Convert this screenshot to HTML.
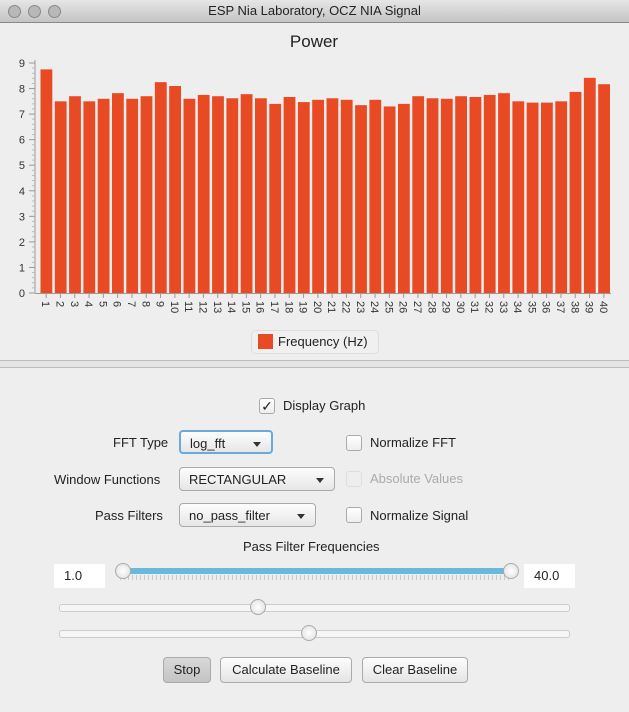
<!DOCTYPE html>
<html><head><meta charset="utf-8"><style>
body{margin:0;width:629px;height:712px;overflow:hidden;background:#eeeeee;font-family:"Liberation Sans",sans-serif;font-size:13px;color:#222;position:relative}
.a{position:absolute}
.dd{position:absolute;height:24px;border:1px solid #aaa;border-radius:4px;background:linear-gradient(#fdfdfd,#e6e6e6);box-sizing:border-box;padding:4px 9px;font-size:13px}
.dd:after{content:"";position:absolute;right:10px;top:10px;border-left:4px solid transparent;border-right:4px solid transparent;border-top:5px solid #333}
.cb{position:absolute;width:16px;height:16px;border:1px solid #aaa;border-radius:3px;background:linear-gradient(#fff,#eee);box-sizing:border-box}
.btn{position:absolute;height:26px;border:1px solid #aaa;border-radius:4px;background:linear-gradient(#fdfdfd,#e4e4e4);box-sizing:border-box;text-align:center;line-height:24px;font-size:13px}
.track{position:absolute;height:6px;border:1px solid #ccc;border-radius:3px;background:#f6f6f6}
.knob{position:absolute;width:16px;height:16px;border-radius:50%;border:1px solid #aaa;background:radial-gradient(#fff,#ddd);box-sizing:border-box}
.tf{position:absolute;background:#fff;height:24px;line-height:24px;padding-left:10px;box-sizing:border-box;font-size:13px}
</style></head><body>
<div class="a" style="left:0;top:0;width:629px;height:22px;background:linear-gradient(#e6e6e6,#c4c4c4);border-bottom:1px solid #888;text-align:center;line-height:22px;font-size:13px">ESP Nia Laboratory, OCZ NIA Signal
<div class="a" style="left:8px;top:5px;width:11px;height:11px;border-radius:50%;background:#b8b8b8;border:1px solid #888"></div>
<div class="a" style="left:28px;top:5px;width:11px;height:11px;border-radius:50%;background:#b8b8b8;border:1px solid #888"></div>
<div class="a" style="left:48px;top:5px;width:11px;height:11px;border-radius:50%;background:#b8b8b8;border:1px solid #888"></div>
</div>
<svg class="a" style="left:0;top:23px" width="629" height="345">
<g id="g" transform="translate(0,-23)"></g>
</svg>
<div class="a" style="left:0;top:360px;width:629px;height:6px;border-top:1px solid #bbb;border-bottom:1px solid #bbb;background:#e4e4e4"></div>

<div class="cb" style="left:259px;top:398px;text-align:center;line-height:14px;font-size:14px">✓</div>
<div class="a" style="left:283px;top:398px">Display Graph</div>

<div class="a" style="left:113px;top:435px">FFT Type</div>
<div class="dd" style="left:179px;top:430px;width:94px;border:2px solid #6aa9d8">log_fft</div>
<div class="cb" style="left:346px;top:435px"></div>
<div class="a" style="left:370px;top:435px">Normalize FFT</div>

<div class="a" style="left:54px;top:472px">Window Functions</div>
<div class="dd" style="left:179px;top:467px;width:156px">RECTANGULAR</div>
<div class="cb" style="left:346px;top:471px;border-color:#ddd;background:#eee"></div>
<div class="a" style="left:370px;top:471px;color:#aaa">Absolute Values</div>

<div class="a" style="left:95px;top:508px">Pass Filters</div>
<div class="dd" style="left:179px;top:503px;width:137px">no_pass_filter</div>
<div class="cb" style="left:346px;top:507px"></div>
<div class="a" style="left:370px;top:508px">Normalize Signal</div>

<div class="a" style="left:243px;top:539px">Pass Filter Frequencies</div>
<div class="tf" style="left:54px;top:564px;width:51px">1.0</div>
<div class="tf" style="left:524px;top:564px;width:51px">40.0</div>
<div class="a" style="left:122px;top:568px;width:390px;height:6px;background:#6bb8dd"></div>
<div class="a" style="left:120px;top:575px;width:392px;height:5px;background:repeating-linear-gradient(90deg,#c8c8c8 0 1px,transparent 1px 4px)"></div>
<div class="knob" style="left:115px;top:563px"></div>
<div class="knob" style="left:503px;top:563px"></div>

<div class="track" style="left:59px;top:604px;width:509px"></div>
<div class="knob" style="left:250px;top:599px"></div>
<div class="track" style="left:59px;top:630px;width:509px"></div>
<div class="knob" style="left:301px;top:625px"></div>

<div class="btn" style="left:163px;top:657px;width:48px;background:linear-gradient(#d8d8d8,#c4c4c4)">Stop</div>
<div class="btn" style="left:220px;top:657px;width:132px">Calculate Baseline</div>
<div class="btn" style="left:362px;top:657px;width:106px">Clear Baseline</div>

<script>
const categories=[1,2,3,4,5,6,7,8,9,10,11,12,13,14,15,16,17,18,19,20,21,22,23,24,25,26,27,28,29,30,31,32,33,34,35,36,37,38,39,40];
const values=[8.75,7.5,7.7,7.5,7.6,7.82,7.6,7.7,8.25,8.1,7.6,7.75,7.7,7.62,7.78,7.62,7.4,7.67,7.47,7.56,7.62,7.56,7.35,7.56,7.3,7.4,7.7,7.62,7.6,7.7,7.67,7.75,7.82,7.5,7.45,7.45,7.5,7.87,8.42,8.17];
const yTicks=[0,1,2,3,4,5,6,7,8,9];
const NS="http://www.w3.org/2000/svg",g=document.getElementById('g');
const xa0=35,x0=39,x1=611,yb=293,yt=63,ymax=9;
const band=(x1-x0)/categories.length;
const X=i=>x0+i*band, Y=v=>yb-(v/ymax)*(yb-yt);
function mk(t,a){const e=document.createElementNS(NS,t);for(const k in a)e.setAttribute(k,a[k]);g.appendChild(e);return e;}
let t=mk('text',{x:314,y:47,'text-anchor':'middle','font-size':17,fill:'#222','font-family':'Liberation Sans'});t.textContent='Power';


let ax=mk('line',{x1:xa0,y1:yt-3,x2:xa0,y2:yb,stroke:'#999'});


let xa=mk('line',{x1:xa0,y1:yb+0.5,x2:x1,y2:yb+0.5,stroke:'#999'});


yTicks.forEach(v=>{
  mk('line',{x1:xa0-6,y1:Y(v),x2:xa0,y2:Y(v),stroke:'#999'});
  if(v<ymax)for(let k=1;k<5;k++)mk('line',{x1:xa0-3,y1:Y(v+k/5),x2:xa0,y2:Y(v+k/5),stroke:'#bbb'});
  const l=mk('text',{x:xa0-10,y:Y(v)+4,'text-anchor':'end','font-size':11,fill:'#333'});l.textContent=v;
  
  
});
categories.forEach((c,i)=>{
  const cx=X(i)+band/2;
  const r=mk('rect',{x:X(i)+1.5,y:Y(values[i]),width:band-2.5,height:yb-Y(values[i]),fill:'#e84a24'});
  
  
  mk('line',{x1:cx,y1:yb,x2:cx,y2:yb+5,stroke:'#999'});
  const l=mk('text',{x:0,y:0,'font-size':11,fill:'#333',transform:`translate(${cx-4},${yb+8}) rotate(90)`});l.textContent=c;
  
  
});
const lg=mk('rect',{x:251.5,y:330.5,width:127,height:23,rx:4,fill:'#f0f0f0',stroke:'#ddd'});


const sw=mk('rect',{x:258,y:334,width:15,height:15,fill:'#e84a24'});


const lt=mk('text',{x:278,y:346,'font-size':13,fill:'#222'});lt.textContent='Frequency (Hz)';


</script>
</body></html>
